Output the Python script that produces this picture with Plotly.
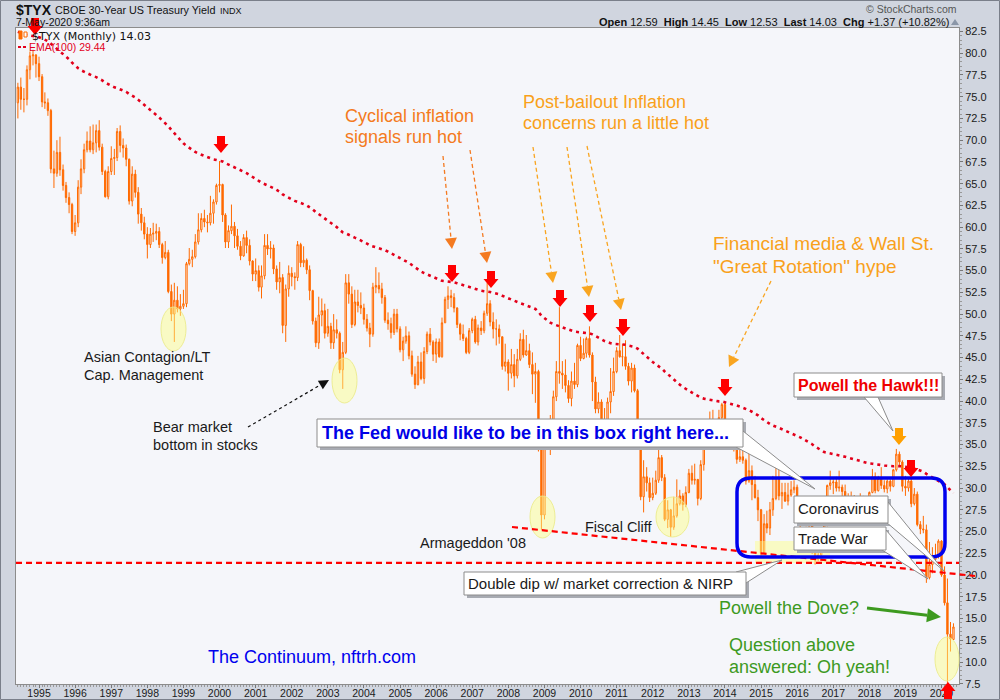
import math
import pandas as pd
import plotly.graph_objects as go

# $TYX monthly bars (yield x10), Jun-1994 .. May-2020
START = "1994-06-01"

OPEN = [
    74.3, 76.1, 74.7, 74.7, 78.1, 79.7, 79.8,
    78.8, 77.3, 74.4, 74.3, 73.4, 66.7, 66.2, 68.6, 66.6, 64.8, 63.4, 62.6,
    59.5, 60.5, 64.6, 66.7, 68.9, 69.9, 68.9, 69.7, 71.1, 69.2, 66.4, 63.5,
    66.4, 67.9, 68.0, 71.0, 69.4, 69.1, 67.8, 63.0, 66.1, 64.0, 61.5, 60.5,
    59.2, 58.0, 59.2, 59.3, 59.5, 58.0, 56.5, 57.1, 52.6, 50.0, 51.6, 50.6,
    50.9, 51.2, 55.8, 56.3, 56.6, 58.3, 59.7, 61.0, 60.6, 60.5, 61.6, 62.9,
    64.8, 64.9, 61.4, 58.3, 59.6, 60.1, 59.0, 57.8, 56.7, 58.8, 57.9, 56.1,
    54.6, 55.0, 53.1, 54.4, 57.9, 57.5, 57.6, 55.2, 53.7, 54.2, 48.7, 52.9,
    54.7, 54.3, 54.2, 58.0, 55.9, 56.2, 55.1, 52.7, 49.2, 46.7, 49.9, 50.4,
    47.8, 48.6, 46.7, 48.2, 47.8, 43.6, 45.6, 53.6, 52.3, 48.8, 51.4, 51.0,
    50.7, 49.4, 48.4, 47.7, 53.1, 53.3, 52.9, 51.9, 49.3, 48.9, 47.9, 50.0,
    48.3, 45.9, 46.9, 47.5, 45.2, 43.1, 41.9, 44.5, 42.6, 45.7, 47.7, 46.8,
    45.4, 46.8, 45.1, 49.0, 51.7, 52.1, 51.9, 50.7, 48.8, 47.7, 47.2, 45.6,
    48.1, 49.4, 46.8, 48.4, 48.1, 50.1, 51.2, 49.1, 48.3, 48.3, 47.4, 44.0,
    44.5, 43.2, 44.2, 42.9, 44.8, 47.1, 45.3, 45.8, 44.2, 43.1, 43.4, 34.4,
    26.9, 35.9, 37.1, 35.6, 40.5, 43.4, 43.2, 43.0, 41.8, 40.3, 42.3, 41.9,
    46.4, 44.9, 45.5, 47.2, 45.3, 42.2, 39.1, 39.9, 35.2, 36.9, 39.9, 41.1,
    43.4, 45.8, 45.1, 45.1, 44.0, 42.3, 43.8, 41.2, 36.0, 29.0, 31.3, 30.6,
    28.9, 29.4, 30.9, 33.5, 31.2, 26.4, 27.5, 25.5, 26.8, 28.2, 29.1, 28.1,
    29.5, 31.7, 30.9, 31.0, 28.8, 32.7, 35.0, 36.4, 37.0, 36.8, 36.2, 38.1,
    39.6, 36.1, 35.9, 35.6, 34.7, 33.3, 33.6, 33.2, 30.8, 32.0, 30.4, 28.9,
    27.5, 22.5, 25.9, 25.4, 27.5, 28.8, 31.2, 29.1, 29.5, 28.5, 29.2, 29.8,
    30.1, 27.5, 26.1, 26.1, 26.8, 26.4, 22.8, 21.8, 22.3, 23.2, 25.8, 30.3,
    30.6, 30.7, 30.0, 30.1, 29.6, 28.7, 28.4, 28.9, 27.3, 28.6, 28.7, 28.3,
    27.4, 29.5, 31.3, 29.7, 31.1, 30.3, 29.9, 30.8, 30.2, 32.1, 33.9, 33.0,
    30.2, 30.0, 30.8, 28.2, 29.3, 25.8, 25.3, 25.2, 19.7, 21.2, 21.8, 22.1,
    23.9, 20.0, 16.8, 13.2, 12.59,
]
HIGH = [
    76.6, 77.2, 76.0, 78.6, 80.2, 80.4, 79.9,
    79.6, 77.6, 75.5, 74.8, 73.6, 68.8, 70.0, 70.4, 67.2, 65.2, 64.0, 62.8,
    61.4, 65.4, 67.8, 69.6, 71.0, 71.6, 71.8, 71.8, 72.3, 69.6, 66.6, 67.0,
    69.3, 69.0, 71.4, 71.7, 70.2, 69.5, 67.9, 67.0, 66.6, 64.6, 62.2, 61.2,
    60.0, 59.9, 60.5, 60.4, 60.0, 58.2, 58.4, 57.4, 53.4, 53.6, 53.2, 52.3,
    52.8, 56.0, 57.6, 57.4, 59.2, 61.6, 61.6, 62.0, 61.4, 63.6, 63.2, 65.0,
    67.6, 65.0, 61.6, 60.2, 62.6, 60.6, 59.8, 58.4, 59.2, 59.6, 58.6, 56.2,
    56.4, 55.6, 55.6, 59.2, 59.2, 58.4, 58.0, 55.6, 56.0, 54.6, 53.4, 55.6,
    55.4, 54.8, 58.4, 58.2, 57.8, 56.4, 55.6, 52.8, 49.6, 52.0, 51.8, 51.2,
    50.6, 49.0, 50.0, 49.4, 48.0, 46.8, 54.6, 54.6, 53.2, 52.8, 52.8, 52.5,
    51.2, 50.0, 49.0, 53.6, 55.4, 54.8, 53.6, 52.2, 50.2, 49.6, 50.6, 50.6,
    48.6, 47.4, 48.6, 48.0, 45.8, 44.0, 45.2, 45.6, 46.2, 48.0, 48.4, 47.0,
    47.2, 47.2, 49.6, 52.0, 53.2, 52.8, 52.4, 50.8, 49.0, 48.8, 47.4, 48.4,
    49.6, 49.8, 48.8, 49.2, 50.4, 53.6, 51.6, 50.2, 49.4, 48.8, 47.4, 46.6,
    44.8, 46.0, 45.4, 46.0, 47.8, 48.2, 47.6, 46.6, 45.6, 44.4, 43.6, 34.8,
    36.0, 37.8, 38.4, 41.2, 44.6, 50.8, 44.6, 44.8, 42.4, 43.4, 44.4, 46.6,
    47.4, 47.2, 47.4, 48.6, 45.6, 42.8, 41.0, 40.2, 39.2, 40.4, 43.8, 45.0,
    46.2, 47.6, 46.6, 47.0, 44.4, 44.4, 44.2, 41.4, 36.4, 33.2, 32.4, 31.2,
    31.2, 32.0, 34.4, 33.8, 31.6, 28.6, 27.6, 29.0, 31.0, 29.8, 29.4, 30.2,
    32.2, 32.6, 32.8, 31.0, 33.2, 36.0, 37.0, 38.8, 39.0, 37.4, 39.0, 39.8,
    39.8, 37.6, 37.2, 36.2, 35.0, 34.8, 34.4, 33.4, 34.4, 32.6, 31.4, 29.8,
    27.6, 27.0, 27.4, 28.4, 31.4, 32.6, 32.2, 30.6, 30.6, 30.6, 30.8, 30.9,
    30.4, 28.4, 27.9, 27.6, 27.2, 26.6, 23.4, 23.6, 24.8, 26.2, 30.4, 32.0,
    31.0, 31.3, 32.0, 30.4, 30.4, 29.4, 29.6, 29.2, 28.9, 29.4, 29.1, 29.0,
    29.6, 32.2, 31.8, 31.4, 32.4, 30.9, 31.0, 31.0, 32.2, 34.5, 34.2, 33.2,
    31.4, 31.2, 31.4, 30.0, 29.6, 26.2, 26.8, 25.8, 23.8, 23.2, 23.6, 24.1,
    24.0, 21.0, 19.6, 14.6, 14.45,
]
LOW = [
    72.5, 73.5, 73.2, 74.0, 77.0, 78.6, 77.2,
    76.8, 73.8, 73.6, 72.8, 66.2, 64.5, 65.8, 65.9, 64.2, 62.8, 61.6, 59.2,
    59.0, 60.0, 63.8, 66.2, 68.6, 68.6, 68.4, 68.6, 68.8, 66.0, 63.4, 63.2,
    66.0, 66.0, 67.6, 68.6, 68.0, 67.0, 62.6, 62.4, 63.4, 60.4, 59.6, 58.6,
    56.4, 57.6, 58.3, 58.5, 57.6, 55.8, 56.3, 52.4, 49.2, 46.8, 50.2, 49.8,
    50.6, 50.8, 55.6, 55.4, 56.4, 58.0, 59.4, 60.0, 59.4, 60.2, 60.4, 62.6,
    64.0, 60.6, 57.6, 57.6, 59.2, 57.6, 57.4, 56.2, 56.6, 57.0, 55.6, 53.8,
    53.8, 52.6, 51.8, 54.0, 56.8, 56.4, 54.6, 52.8, 52.4, 47.8, 46.8, 52.0,
    53.2, 52.8, 53.8, 55.4, 55.4, 54.6, 51.6, 48.8, 46.2, 46.0, 48.6, 47.2,
    47.4, 46.0, 46.0, 47.2, 43.2, 41.4, 45.4, 51.2, 48.4, 48.6, 50.2, 50.0,
    48.8, 48.0, 46.2, 47.4, 52.4, 52.4, 51.2, 49.0, 48.2, 47.2, 47.6, 47.9,
    45.6, 44.6, 46.6, 44.8, 42.8, 41.4, 41.8, 42.4, 42.0, 45.4, 46.4, 44.6,
    44.4, 45.0, 45.0, 49.0, 50.6, 50.8, 50.2, 48.4, 47.0, 46.9, 45.4, 45.4,
    47.8, 46.6, 46.4, 47.6, 47.8, 49.8, 48.6, 47.2, 46.4, 46.6, 43.6, 43.4,
    41.2, 42.6, 41.6, 42.6, 44.6, 45.0, 45.2, 43.8, 40.8, 39.8, 34.2, 25.2,
    26.4, 34.6, 33.8, 35.4, 40.0, 42.0, 41.4, 41.0, 39.8, 39.4, 41.4, 41.6,
    44.6, 44.8, 45.0, 45.0, 40.0, 38.6, 38.6, 35.0, 35.2, 36.2, 38.6, 40.6,
    43.2, 45.0, 44.0, 43.6, 41.8, 41.0, 41.0, 34.4, 28.6, 27.2, 29.6, 28.4,
    28.6, 29.2, 30.6, 30.8, 26.2, 25.4, 24.4, 25.2, 26.6, 28.0, 27.4, 27.8,
    29.4, 30.4, 30.4, 28.0, 28.6, 32.0, 34.8, 36.0, 35.6, 35.0, 36.0, 37.6,
    35.8, 35.6, 35.0, 34.2, 32.8, 33.0, 32.8, 30.4, 30.6, 28.6, 28.8, 26.2,
    22.2, 22.4, 24.8, 24.6, 26.8, 28.6, 28.6, 27.6, 28.4, 28.0, 29.0, 29.4,
    27.4, 24.8, 25.7, 25.6, 25.4, 22.4, 21.2, 21.6, 22.0, 23.0, 25.6, 29.8,
    29.3, 29.6, 29.6, 28.6, 28.6, 27.6, 27.9, 27.0, 26.6, 28.2, 27.6, 27.3,
    27.3, 29.4, 29.4, 29.6, 29.9, 29.5, 29.4, 29.6, 30.1, 31.9, 32.6, 29.6,
    29.1, 29.6, 27.8, 28.0, 25.6, 24.7, 24.8, 19.1, 19.5, 20.2, 21.6, 21.9,
    19.8, 16.5, 7.0, 11.2, 12.53,
]
CLOSE = [
    76.1, 74.7, 74.7, 78.1, 79.7, 79.8, 78.8,
    77.3, 74.4, 74.3, 73.4, 66.7, 66.2, 68.6, 66.6, 64.8, 63.4, 62.6, 59.5,
    60.5, 64.6, 66.7, 68.9, 69.9, 68.9, 69.7, 71.1, 69.2, 66.4, 63.5, 66.4,
    67.9, 68.0, 71.0, 69.4, 69.1, 67.8, 63.0, 66.1, 64.0, 61.5, 60.5, 59.2,
    58.0, 59.2, 59.3, 59.5, 58.0, 56.5, 57.1, 52.6, 50.0, 51.6, 50.6, 50.9,
    51.2, 55.8, 56.3, 56.6, 58.3, 59.7, 61.0, 60.6, 60.5, 61.6, 62.9, 64.8,
    64.9, 61.4, 58.3, 59.6, 60.1, 59.0, 57.8, 56.7, 58.8, 57.9, 56.1, 54.6,
    55.0, 53.1, 54.4, 57.9, 57.5, 57.6, 55.2, 53.7, 54.2, 48.7, 52.9, 54.7,
    54.3, 54.2, 58.0, 55.9, 56.2, 55.1, 52.7, 49.2, 46.7, 49.9, 50.4, 47.8,
    48.6, 46.7, 48.2, 47.8, 43.6, 45.6, 53.6, 52.3, 48.8, 51.4, 51.0, 50.7,
    49.4, 48.4, 47.7, 53.1, 53.3, 52.9, 51.9, 49.3, 48.9, 47.9, 50.0, 48.3,
    45.9, 46.9, 47.5, 45.2, 43.1, 41.9, 44.5, 42.6, 45.7, 47.7, 46.8, 45.4,
    46.8, 45.1, 49.0, 51.7, 52.1, 51.9, 50.7, 48.8, 47.7, 47.2, 45.6, 48.1,
    49.4, 46.8, 48.4, 48.1, 50.1, 51.2, 49.1, 48.3, 48.3, 47.4, 44.0, 44.5,
    43.2, 44.2, 42.9, 44.8, 47.1, 45.3, 45.8, 44.2, 43.1, 43.4, 34.4, 26.9,
    35.9, 37.1, 35.6, 40.5, 43.4, 43.2, 43.0, 41.8, 40.3, 42.3, 41.9, 46.4,
    44.9, 45.5, 47.2, 45.3, 42.2, 39.1, 39.9, 35.2, 36.9, 39.9, 41.1, 43.4,
    45.8, 45.1, 45.1, 44.0, 42.3, 43.8, 41.2, 36.0, 29.0, 31.3, 30.6, 28.9,
    29.4, 30.9, 33.5, 31.2, 26.4, 27.5, 25.5, 26.8, 28.2, 29.1, 28.1, 29.5,
    31.7, 30.9, 31.0, 28.8, 32.7, 35.0, 36.4, 37.0, 36.8, 36.2, 38.1, 39.6,
    36.1, 35.9, 35.6, 34.7, 33.3, 33.6, 33.2, 30.8, 32.0, 30.4, 28.9, 27.5,
    22.5, 25.9, 25.4, 27.5, 28.8, 31.2, 29.1, 29.5, 28.5, 29.2, 29.8, 30.1,
    27.5, 26.1, 26.1, 26.8, 26.4, 22.8, 21.8, 22.3, 23.2, 25.8, 30.3, 30.6,
    30.7, 30.0, 30.1, 29.6, 28.7, 28.4, 28.9, 27.3, 28.6, 28.7, 28.3, 27.4,
    29.5, 31.3, 29.7, 31.1, 30.3, 29.9, 30.8, 30.2, 32.1, 33.9, 33.0, 30.2,
    30.0, 30.8, 28.2, 29.3, 25.8, 25.3, 25.2, 19.7, 21.2, 21.8, 22.1, 23.9,
    20.0, 16.8, 13.2, 12.66, 14.03,
]
EMA_SEED = 82.6      # EMA(100) level just before the first bar
EMA_LEN = 100
HLINE = 21.4         # flat red dashed level

ORANGE = "#ff6a00"
FONT = "Liberation Sans, Arial, sans-serif"

dates = pd.date_range(START, periods=len(CLOSE), freq="MS")

ema = []
e = EMA_SEED
for c in CLOSE:
    e = e + (c - e) * 2.0 / (EMA_LEN + 1)
    ema.append(e)

fig = go.Figure()
fig.add_trace(go.Candlestick(
    x=dates, open=OPEN, high=HIGH, low=LOW, close=CLOSE,
    increasing=dict(line=dict(color=ORANGE, width=1), fillcolor="#ffffff"),
    decreasing=dict(line=dict(color=ORANGE, width=1), fillcolor=ORANGE),
    whiskerwidth=0, hoverinfo="skip", showlegend=False))
fig.add_trace(go.Scatter(
    x=dates, y=ema, mode="lines", hoverinfo="skip", showlegend=False,
    line=dict(color="#e3001b", width=2.6, dash="3px,4px")))

# pixel -> paper helpers for the hand drawn markup
L, T, W, H = 16, 28, 943, 656
def px(x): return (x - L) / W
def py(y): return (T + H - y) / H
def P(x, y): return f"{px(x):.5f},{py(y):.5f}"
def poly(pts): return "M " + " L ".join(P(x, y) for x, y in pts) + " Z"

shapes = []
notes = []

def note(x, y, text, size, color="#1a1a1a", anchor="left", family=FONT):
    notes.append(dict(x=px(x), y=py(y), xref="paper", yref="paper", text=text,
                      showarrow=False, xanchor=anchor, yanchor="middle", borderpad=0,
                      font=dict(family=family, size=size, color=color)))

def ellipse(cx, cy, rx, ry):
    shapes.append(dict(type="circle", xref="paper", yref="paper",
                       x0=px(cx - rx), x1=px(cx + rx), y0=py(cy + ry), y1=py(cy - ry),
                       fillcolor="rgba(255,255,130,0.45)",
                       line=dict(color="rgba(235,235,140,0.9)", width=1), layer="above"))

def down_arrow(x, y, color, up=False):
    s = -1 if up else 1
    pts = [(x - 4, y - 17 * s), (x + 4, y - 17 * s), (x + 4, y - 9 * s), (x + 7.5, y - 9 * s),
           (x, y), (x - 7.5, y - 9 * s), (x - 4, y - 9 * s)]
    shapes.append(dict(type="path", xref="paper", yref="paper", path=poly(pts),
                       fillcolor=color, line=dict(width=0), layer="above"))

def dashed_arrow(x0, y0, x1, y1, color, size=11, half=6, dash="4px,3px", width=1.3):
    n = math.hypot(x1 - x0, y1 - y0)
    ux, uy = (x1 - x0) / n, (y1 - y0) / n
    bx, by = x1 - ux * size, y1 - uy * size
    shapes.append(dict(type="line", xref="paper", yref="paper",
                       x0=px(x0), y0=py(y0), x1=px(bx), y1=py(by),
                       line=dict(color=color, width=width, dash=dash), layer="above"))
    head = [(x1, y1), (bx - uy * half, by + ux * half), (bx + uy * half, by - ux * half)]
    shapes.append(dict(type="path", xref="paper", yref="paper", path=poly(head),
                       fillcolor=color, line=dict(width=0), layer="above"))

def callout(x0, y0, x1, y1, wedge):
    shapes.append(dict(type="rect", xref="paper", yref="paper",
                       x0=px(x0 + 3), x1=px(x1 + 3), y0=py(y1 + 3), y1=py(y0 + 3),
                       fillcolor="#a8abb2", line=dict(width=0), layer="above"))
    shapes.append(dict(type="path", xref="paper", yref="paper", path=poly(wedge),
                       fillcolor="#ffffff", line=dict(color="#8c8c8c", width=1), layer="above"))
    shapes.append(dict(type="rect", xref="paper", yref="paper",
                       x0=px(x0), x1=px(x1), y0=py(y1), y1=py(y0),
                       fillcolor="#ffffff", line=dict(color="#8c8c8c", width=1), layer="above"))

# yellow highlights
for cx, cy, rx, ry in [(173.5, 329, 12.5, 22), (344.5, 380.5, 12.5, 22.5), (542.5, 517, 12.5, 21),
                       (672.5, 517, 16.5, 20), (947, 659, 12, 22)]:
    ellipse(cx, cy, rx, ry)
shapes.append(dict(type="rect", xref="paper", yref="paper", x0=px(755), x1=px(830),
                   y0=py(563), y1=py(541), fillcolor="rgba(255,255,130,0.45)",
                   line=dict(width=0), layer="above"))

# support lines
shapes.append(dict(type="line", xref="paper", yref="y", x0=0, x1=1, y0=HLINE, y1=HLINE,
                   line=dict(color="#ff0000", width=2.2, dash="6px,4px"), layer="above"))
shapes.append(dict(type="line", xref="paper", yref="paper", x0=px(512), y0=py(527),
                   x1=px(975), y1=py(576),
                   line=dict(color="#ff0000", width=2.2, dash="6px,4px"), layer="above"))

# Fed box
def rounded(x0, y0, x1, y1, r):
    return (f"M {P(x0 + r, y0)} L {P(x1 - r, y0)} Q {P(x1, y0)} {P(x1, y0 + r)} "
            f"L {P(x1, y1 - r)} Q {P(x1, y1)} {P(x1 - r, y1)} L {P(x0 + r, y1)} "
            f"Q {P(x0, y1)} {P(x0, y1 - r)} L {P(x0, y0 + r)} Q {P(x0, y0)} {P(x0 + r, y0)} Z")
shapes.append(dict(type="path", xref="paper", yref="paper", path=rounded(737, 478, 945, 557, 14),
                   line=dict(color="#0000ee", width=3.5), layer="above"))

# red / orange block arrows
for x, y in [(35, 35), (221, 153), (452, 282), (491, 288), (560, 307), (590, 322),
             (623, 336), (725, 396), (911, 477)]:
    down_arrow(x, y, "#ff0000")
down_arrow(948, 682, "#ff0000", up=True)
down_arrow(899, 445, "#ffa000")

# dashed callout arrows
for (x0, y0), (x1, y1) in [((443, 156), (452, 249)), ((470, 150), (487, 263))]:
    dashed_arrow(x0, y0, x1, y1, "#f47a20")
for (x0, y0), (x1, y1) in [((533, 147), (553, 283)), ((567, 147), (589, 297)),
                           ((587, 146), (621, 310)), ((771, 281), (729, 367))]:
    dashed_arrow(x0, y0, x1, y1, "#f9a520")
dashed_arrow(248, 427, 329, 380, "#111111", size=10, half=5, dash="3px,3px", width=1.2)
dashed_arrow(867, 608, 941, 617, "#3d9a1f", size=14, half=7, dash="solid", width=3)

# callout boxes
callout(317, 419, 743, 447, [(743, 431), (815, 489), (736, 447)])
callout(794, 373, 942, 397, [(864, 397), (893, 431), (878, 397)])
callout(794, 496, 888, 523, [(888, 502), (944, 571), (886, 522)])
callout(794, 527, 886, 550, [(886, 530), (928, 579), (882, 550)])
callout(464, 572, 746, 595, [(736, 572), (782, 560), (746, 583)])

note(321, 433, "<b>The Fed would like to be in this box right here...</b>", 18, "#0000e6")
note(797, 385, "<b>Powell the Hawk!!!</b>", 16, "#ee0000")
note(797, 509, "Coronavirus", 15)
note(797, 538, "Trade War", 15)
note(467, 583, "Double dip w/ market correction & NIRP", 15)

note(344, 116, "Cyclical inflation", 18, "#f47a20")
note(344, 137, "signals run hot", 18, "#f47a20")
note(522, 102, "Post-bailout Inflation", 18, "#f9a11b")
note(522, 123, "concerns run a little hot", 18, "#f9a11b")
note(712, 244, "Financial media & Wall St.", 19, "#f9a11b")
note(712, 266, "\"Great Rotation\" hype", 19, "#f9a11b")

note(83, 357, "Asian Contagion/LT", 14.5)
note(83, 375, "Cap. Management", 14.5)
note(152, 427, "Bear market", 14.5)
note(152, 445, "bottom in stocks", 14.5)
note(419, 543, "Armageddon '08", 14.5)
note(584, 527, "Fiscal Cliff", 14.5)

note(718, 608, "Powell the Dove?", 18, "#3d9a1f")
note(728, 645, "Question above", 18, "#3d9a1f")
note(728, 667, "answered: Oh yeah!", 18, "#3d9a1f")
note(207, 657, "The Continuum, nftrh.com", 18, "#0000ee")

# header + legend
note(15, 10, "<b>$TYX</b>", 14, "#111111")
note(54, 10, "CBOE 30-Year US Treasury Yield", 10.8, "#111111")
note(219, 11, "INDX", 9, "#111111")
note(15, 22, "7-May-2020 9:36am", 10.5, "#111111")
note(958, 9, "© StockCharts.com", 10.5, "#555555", anchor="right")
note(950, 22, "<b>Open</b> 12.59  <b>High</b> 14.45  <b>Low</b> 12.53  <b>Last</b> 14.03  "
     "<b>Chg</b> +1.37 (+10.82%)", 11, "#111111", anchor="right")
shapes.append(dict(type="path", xref="paper", yref="paper",
                   path=poly([(951, 25), (959, 25), (955, 19)]),
                   fillcolor="#8a96a8", line=dict(width=0), layer="above"))
note(31, 36, "$TYX (Monthly) 14.03", 11, "#111111", family="DejaVu Sans, sans-serif")
note(28, 47, "EMA(100) 29.44", 10.5, "#e3001b")
shapes.append(dict(type="line", xref="paper", yref="paper", x0=px(18), x1=px(28),
                   y0=py(47), y1=py(47), line=dict(color="#e3001b", width=2, dash="3px,2px"),
                   layer="above"))
for x0, x1, y0, y1, fill in [(19, 22, 31, 39, ORANGE), (24, 27, 32, 37, "#ffffff")]:
    shapes.append(dict(type="rect", xref="paper", yref="paper", x0=px(x0), x1=px(x1),
                       y0=py(y1), y1=py(y0), fillcolor=fill,
                       line=dict(color=ORANGE, width=1), layer="above"))

# outer frame
shapes.append(dict(type="rect", xref="paper", yref="paper", x0=px(0.5), x1=px(999.5),
                   y0=py(699.5), y1=py(0.5), line=dict(color="#7a7f8a", width=1)))

fig.update_layout(
    width=1000, height=700,
    margin=dict(l=L, r=1000 - L - W, t=T, b=700 - T - H, autoexpand=False),
    paper_bgcolor="#d0d5df", plot_bgcolor="#f5f6fa",
    font=dict(family=FONT, color="#1a1a1a"),
    showlegend=False,
    shapes=shapes, annotations=notes,
    xaxis=dict(type="date", range=["1994-05-13", "2020-06-26"], rangeslider=dict(visible=False),
               tick0="1995-01-01", dtick="M12", tickformat="%Y",
               ticks="outside", ticklen=3, tickcolor="#777777", ticklabelstandoff=-4,
               minor=dict(dtick="M1", ticks="outside", ticklen=2, tickcolor="#999999"),
               tickfont=dict(size=10.5, color="#1a1a1a"),
               showgrid=False, showline=True, linecolor="#8c8c8c", mirror=True, zeroline=False),
    yaxis=dict(side="right", range=[7.47, 82.9], tick0=0, dtick=2.5, tickformat=".1f",
               ticks="outside", ticklen=3, tickcolor="#777777",
               minor=dict(dtick=0.5, ticks="outside", ticklen=2, tickcolor="#999999"),
               tickfont=dict(size=11, color="#1a1a1a"),
               showgrid=False, showline=True, linecolor="#8c8c8c", mirror=True, zeroline=False),
)

# page body has a default margin; drop it so the figure sits at the window corner
fig.write_html("out.html", config={"displayModeBar": False},
               post_script="document.body.style.margin='0';")
